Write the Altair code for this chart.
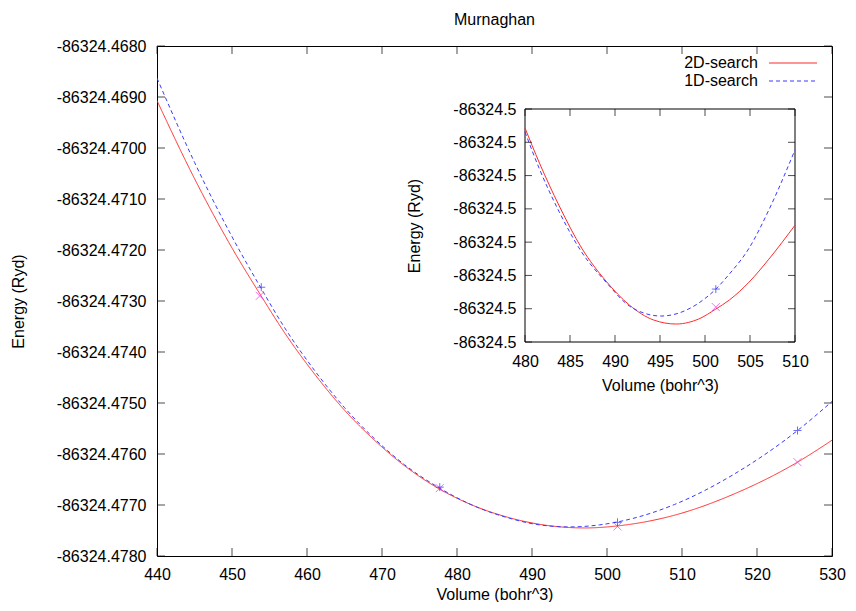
import altair as alt
import pandas as pd

# ---------------- data ----------------
series = ["2D-search", "1D-search"]

# main fitted curves
vol_2d = [440, 445, 450, 453.8, 457, 461, 465, 469, 473, 477.7, 482, 487, 492, 497, 502, 509, 517, 525.4, 530]
e_2d = [-86324.46907, -86324.47060, -86324.47196, -86324.47288, -86324.47362, -86324.47443,
        -86324.47514, -86324.47573, -86324.47623, -86324.47669, -86324.47700, -86324.47725,
        -86324.47740, -86324.47745, -86324.47740, -86324.47720, -86324.47678, -86324.47616,
        -86324.47573]
vol_1d = [440, 445, 450, 453.8, 457, 461, 465, 469, 473, 477.7, 482, 487, 491, 495, 499, 503, 509, 517, 525.4, 530]
e_1d = [-86324.46863, -86324.47028, -86324.47174, -86324.47273, -86324.47352, -86324.47436,
        -86324.47509, -86324.47570, -86324.47621, -86324.47667, -86324.47700, -86324.47726,
        -86324.47739, -86324.47743, -86324.47739, -86324.47728, -86324.47699, -86324.47639,
        -86324.47554, -86324.47497]

# main data points
pt2d_vol = [453.7, 477.7, 501.4, 525.4]
pt2d_e = [-86324.47290, -86324.47667, -86324.47742, -86324.47616]
pt1d_vol = [453.9, 477.7, 501.4, 525.4]
pt1d_e = [-86324.47273, -86324.47665, -86324.47734, -86324.47554]

# inset curves
ins_vol_2d = [480.0, 481.6, 483.8, 486.3, 489.0, 491.6, 494.3, 496.8, 498.2, 499.3, 501.2, 502.7,
              504.9, 507.1, 510.0]
ins_e_2d = [-86324.476957, -86324.477062, -86324.477191, -86324.477318, -86324.477417,
            -86324.477489, -86324.477534, -86324.477546, -86324.477541, -86324.477531,
            -86324.477501, -86324.477474, -86324.477420, -86324.477351, -86324.477249]
ins_vol_1d = [480.0, 481.6, 483.8, 486.3, 489.0, 491.6, 493.2, 495.1, 497.1, 499.3, 501.2, 502.7,
              504.9, 507.1, 510.0]
ins_e_1d = [-86324.476969, -86324.477080, -86324.477209, -86324.477330, -86324.477420,
            -86324.477492, -86324.477513, -86324.477522, -86324.477513, -86324.477483,
            -86324.477441, -86324.477396, -86324.477318, -86324.477203, -86324.477023]
ins_pt_vol = [501.2]
ins_pt2d_e = [-86324.477495]
ins_pt1d_e = [-86324.477441]

# axis ticks
x_ticks = [440, 450, 460, 470, 480, 490, 500, 510, 520, 530]
y_ticks = [-86324.4780, -86324.4770, -86324.4760, -86324.4750, -86324.4740, -86324.4730,
           -86324.4720, -86324.4710, -86324.4700, -86324.4690, -86324.4680]
ins_x_ticks = [480, 485, 490, 495, 500, 505, 510]
ins_y_ticks = [-86324.4776, -86324.4775, -86324.4774, -86324.4773, -86324.4772, -86324.4771,
               -86324.4770, -86324.4769]

# ---------------- styling / layout ----------------
FONT = "Liberation Sans"
FS = 16
RED = "#ff2b2b"
BLUE = "#3a3aff"
MAG = "#f035f0"
PBLUE = "#3030f0"
W, H = 675, 510
XD = [x_ticks[0], x_ticks[-1]]
YD = [y_ticks[0], y_ticks[-1]]
IXD = [ins_x_ticks[0], ins_x_ticks[-1]]
IYD = [ins_y_ticks[0], ins_y_ticks[-1]]
IXR = [368, 638]   # inset pixel range inside plot
IYR = [296, 63]
LEG_Y = [17, 35]   # legend rows (pixels inside plot)
PLUS = "M-1,0L1,0M0,-1L0,1"
CROSS = "M-1,-1L1,1M-1,1L1,-1"
HYPHEN = "replace(datum.label, '\u2212', '-')"

xs = alt.Scale(domain=XD, nice=False, zero=False)
ys = alt.Scale(domain=YD, nice=False, zero=False)
ixs = alt.Scale(domain=IXD, range=IXR, nice=False, zero=False)
iys = alt.Scale(domain=IYD, range=IYR, nice=False, zero=False)

main_xaxis = alt.Axis(title="Volume (bohr^3)", values=x_ticks, ticks=False, tickSize=0, domain=False,
                      grid=False, labelPadding=10, titlePadding=4, labelFlush=False, labelOverlap=False)
main_yaxis = alt.Axis(title="Energy (Ryd)", values=y_ticks, format=".4f", labelExpr=HYPHEN, ticks=False,
                      tickSize=0, domain=False, grid=False, labelPadding=11, titlePadding=30,
                      labelFlush=False, labelOverlap=False)
ins_xaxis = alt.Axis(title="Volume (bohr^3)", orient="bottom", offset=-(H - IYR[0]), values=ins_x_ticks,
                     ticks=False, tickSize=0, domain=False, grid=False, labelPadding=11, titlePadding=8,
                     labelFlush=False, labelOverlap=False)
ins_yaxis = alt.Axis(title="Energy (Ryd)", orient="left", offset=-IXR[0], values=ins_y_ticks, format=".1f",
                     labelExpr=HYPHEN, ticks=False, tickSize=0, domain=False, grid=False, labelPadding=9,
                     titlePadding=30, labelFlush=False, labelOverlap=False)

mx = alt.X("v:Q", scale=xs, axis=main_xaxis)
my = alt.Y("e:Q", scale=ys, axis=main_yaxis)
ix = alt.X("v:Q", scale=ixs, axis=ins_xaxis)
iy = alt.Y("e:Q", scale=iys, axis=ins_yaxis)

# ---------------- main plot ----------------
curves = pd.DataFrame({
    "v": vol_2d + vol_1d,
    "e": e_2d + e_1d,
    "s": [series[0]] * len(vol_2d) + [series[1]] * len(vol_1d),
})
col_scale = alt.Scale(domain=series, range=[RED, BLUE])
dash_scale = alt.Scale(domain=series, range=[[1, 0], [4, 3]])
lines = alt.Chart(curves).mark_line(strokeWidth=1, interpolate="monotone", clip=True).encode(
    x=mx, y=my,
    color=alt.Color("s:N", scale=col_scale, legend=None),
    strokeDash=alt.StrokeDash("s:N", scale=dash_scale, legend=None),
)
p2 = alt.Chart(pd.DataFrame({"v": pt2d_vol, "e": pt2d_e})).mark_point(
    shape=CROSS, filled=False, size=64, strokeWidth=1, color=MAG).encode(x=mx, y=my)
p1 = alt.Chart(pd.DataFrame({"v": pt1d_vol, "e": pt1d_e})).mark_point(
    shape=PLUS, filled=False, size=64, strokeWidth=1, color=PBLUE).encode(x=mx, y=my)


def tick_layers(xt, yt, xd, yd, xenc, yenc, ln):
    tb = pd.DataFrame({"v": xt, "e": [yd[0]] * len(xt)})
    tt = pd.DataFrame({"v": xt, "e": [yd[1]] * len(xt)})
    tl = pd.DataFrame({"v": [xd[0]] * len(yt), "e": yt})
    tr = pd.DataFrame({"v": [xd[1]] * len(yt), "e": yt})
    half = ln / 2
    return [
        alt.Chart(tb).mark_tick(orient="vertical", size=ln, thickness=1, yOffset=-half, color="black").encode(x=xenc, y=yenc),
        alt.Chart(tt).mark_tick(orient="vertical", size=ln, thickness=1, yOffset=half, color="black").encode(x=xenc, y=yenc),
        alt.Chart(tl).mark_tick(orient="horizontal", size=ln, thickness=1, xOffset=half, color="black").encode(x=xenc, y=yenc),
        alt.Chart(tr).mark_tick(orient="horizontal", size=ln, thickness=1, xOffset=-half, color="black").encode(x=xenc, y=yenc),
    ]


main = alt.layer(lines, p2, p1, *tick_layers(x_ticks, y_ticks, XD, YD, mx, my, 8))

# ---------------- inset ----------------
frame = alt.Chart(pd.DataFrame({"v": [IXD[0]], "v2": [IXD[1]], "e": [IYD[0]], "e2": [IYD[1]]})).mark_rect(
    fill="white", stroke="black", strokeWidth=1).encode(x=ix, x2="v2:Q", y=iy, y2="e2:Q")
il2 = alt.Chart(pd.DataFrame({"v": ins_vol_2d, "e": ins_e_2d})).mark_line(
    strokeWidth=1, interpolate="monotone", color=RED).encode(x=ix, y=iy)
il1 = alt.Chart(pd.DataFrame({"v": ins_vol_1d, "e": ins_e_1d})).mark_line(
    strokeWidth=1, interpolate="monotone", color=BLUE, strokeDash=[4, 3]).encode(x=ix, y=iy)
ip2 = alt.Chart(pd.DataFrame({"v": ins_pt_vol, "e": ins_pt2d_e})).mark_point(
    shape=CROSS, filled=False, size=64, strokeWidth=1, color=MAG).encode(x=ix, y=iy)
ip1 = alt.Chart(pd.DataFrame({"v": ins_pt_vol, "e": ins_pt1d_e})).mark_point(
    shape=PLUS, filled=False, size=64, strokeWidth=1, color=PBLUE).encode(x=ix, y=iy)

inset = alt.layer(frame, il2, il1, ip2, ip1, *tick_layers(ins_x_ticks, ins_y_ticks, IXD, IYD, ix, iy, 7))

# ---------------- key (gnuplot style: label then line sample) ----------------
key_df = pd.DataFrame({"s": series})
ky = alt.Y("s:N", scale=alt.Scale(type="point", domain=series, range=LEG_Y, padding=0), axis=None)
key_text = alt.Chart(key_df).mark_text(align="right", baseline="middle", font=FONT, fontSize=FS,
                                       color="black").encode(x=alt.value(601), y=ky, text="s:N")
key_line = alt.Chart(key_df).mark_rule(strokeWidth=1).encode(
    x=alt.value(612), x2=alt.value(660), y=ky,
    color=alt.Color("s:N", scale=col_scale, legend=None),
    strokeDash=alt.StrokeDash("s:N", scale=dash_scale, legend=None),
)
key = alt.layer(key_text, key_line)

chart = alt.layer(main, inset, key).resolve_scale(
    x="independent", y="independent"
).properties(
    width=W, height=H,
    padding={"left": 2, "top": 4, "right": 0, "bottom": 0},
    title=alt.TitleParams("Murnaghan", font=FONT, fontSize=FS, fontWeight="normal", color="black",
                          anchor="middle", frame="group", offset=10),
).configure_view(
    stroke="black", strokeWidth=1
).configure_axis(
    labelFont=FONT, titleFont=FONT, labelFontSize=FS, titleFontSize=FS, titleFontWeight="normal",
    labelColor="black", titleColor="black"
)

chart.save("out.html", embed_options={"renderer": "svg", "actions": False})
